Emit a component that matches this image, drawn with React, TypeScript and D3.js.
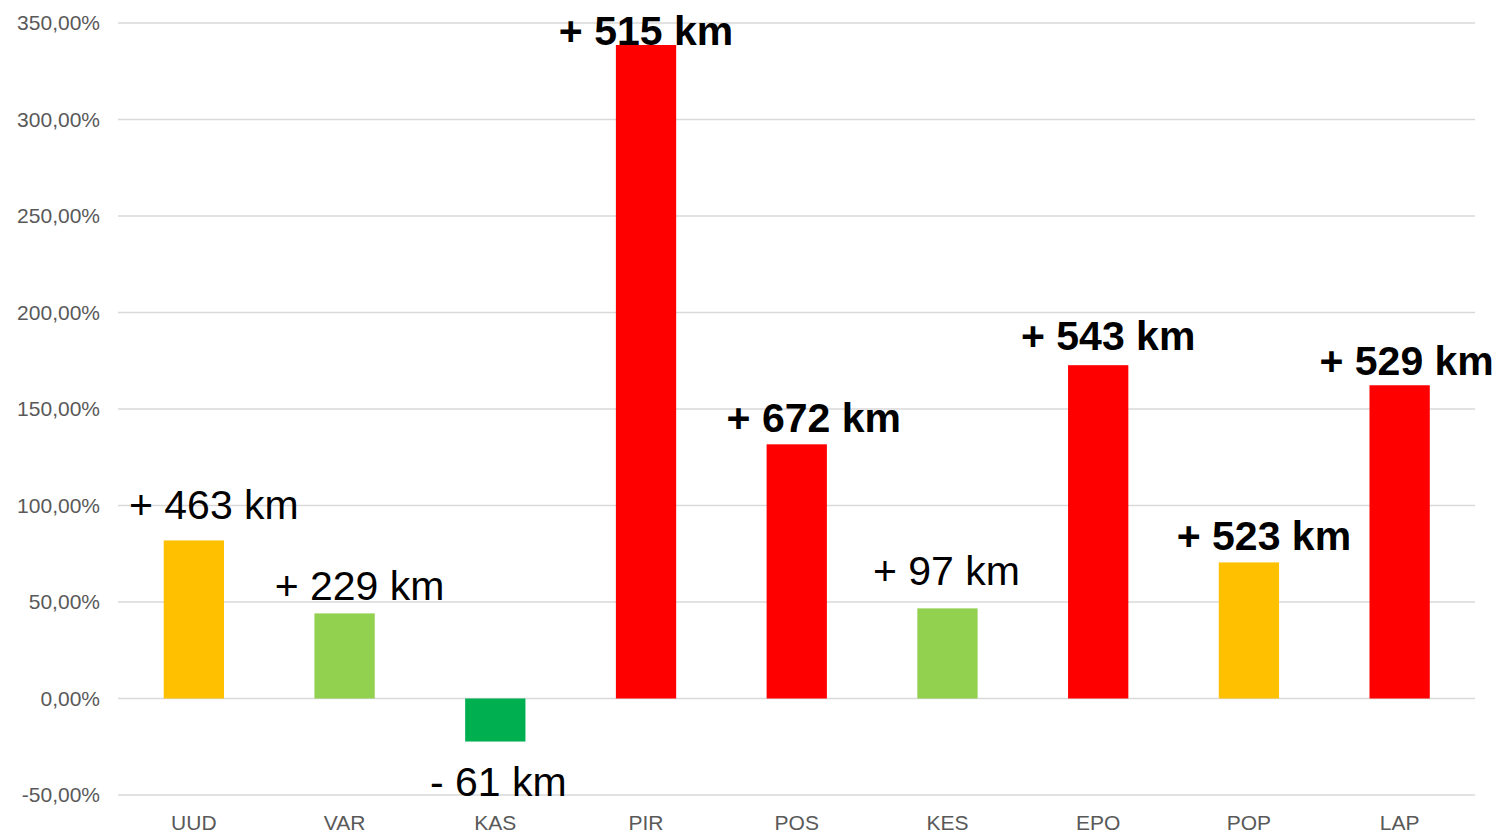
import React from "react";
import * as d3 from "d3";

const categories = ["UUD", "VAR", "KAS", "PIR", "POS", "KES", "EPO", "POP", "LAP"];
const values = [81.9, 44.1, -22.3, 338.6, 131.7, 46.7, 172.7, 70.5, 162.3];
const labels = ["+ 463 km", "+ 229 km", "- 61 km", "+ 515 km", "+ 672 km", "+ 97 km", "+ 543 km", "+ 523 km", "+ 529 km"];
const boldLabels = [false, false, false, true, true, false, true, true, true];
const barColors = ["#FFC000", "#92D050", "#00B050", "#FF0000", "#FF0000", "#92D050", "#FF0000", "#FFC000", "#FF0000"];
const yTicks = [-50, 0, 50, 100, 150, 200, 250, 300, 350];

// label nudges (dx, dy relative to bar end)
const labelNudge: [number, number][] = [
  [20, -21], [15, -13], [3, 54], [0, 0], [17, -12], [-1, -23], [10, -15], [15, -12], [7, -10],
];

const W = 1502;
const H = 835;

export default function App() {
  const x = d3.scaleBand<string>().domain(categories).range([118.5, 1475]).paddingInner(0.6).paddingOuter(0.3);
  const y = d3.scaleLinear().domain([-50, 350]).range([795, 23]);
  const fmt = (v: number) => d3.format(".2f")(v).replace(".", ",").replace("\u2212", "-") + "%";
  const font = "Arial, 'Liberation Sans', sans-serif";

  return (
    <svg width={W} height={H} style={{ position: "fixed", left: 0, top: 0, background: "#fff" }} fontFamily={font}>
      <rect width={W} height={H} fill="#fff" />
      {yTicks.map((t) => (
        <g key={t}>
          <line x1={118} x2={1475} y1={y(t)} y2={y(t)} stroke="#d9d9d9" strokeWidth={1.5} />
          <text x={100} y={y(t)} dy="0.35em" textAnchor="end" fontSize={21} fill="#595959">
            {fmt(t)}
          </text>
        </g>
      ))}
      {categories.map((c, i) => {
        const v = values[i];
        const bx = x(c)!;
        const bw = x.bandwidth();
        const y0 = y(0);
        const y1 = y(v);
        return (
          <rect key={c} x={bx} width={bw} y={Math.min(y0, y1)} height={Math.abs(y1 - y0)} fill={barColors[i]} />
        );
      })}
      {categories.map((c) => (
        <text key={c} x={x(c)! + x.bandwidth() / 2} y={830} textAnchor="middle" fontSize={21} fill="#595959">
          {c}
        </text>
      ))}
      {categories.map((c, i) => {
        const cx = x(c)! + x.bandwidth() / 2;
        const [dx, dy] = labelNudge[i];
        return (
          <text
            key={"l" + c}
            x={cx + dx}
            y={y(values[i]) + dy}
            textAnchor="middle"
            fontSize={41}
            fontWeight={boldLabels[i] ? "bold" : "normal"}
            fill="#000"
          >
            {labels[i]}
          </text>
        );
      })}
    </svg>
  );
}
